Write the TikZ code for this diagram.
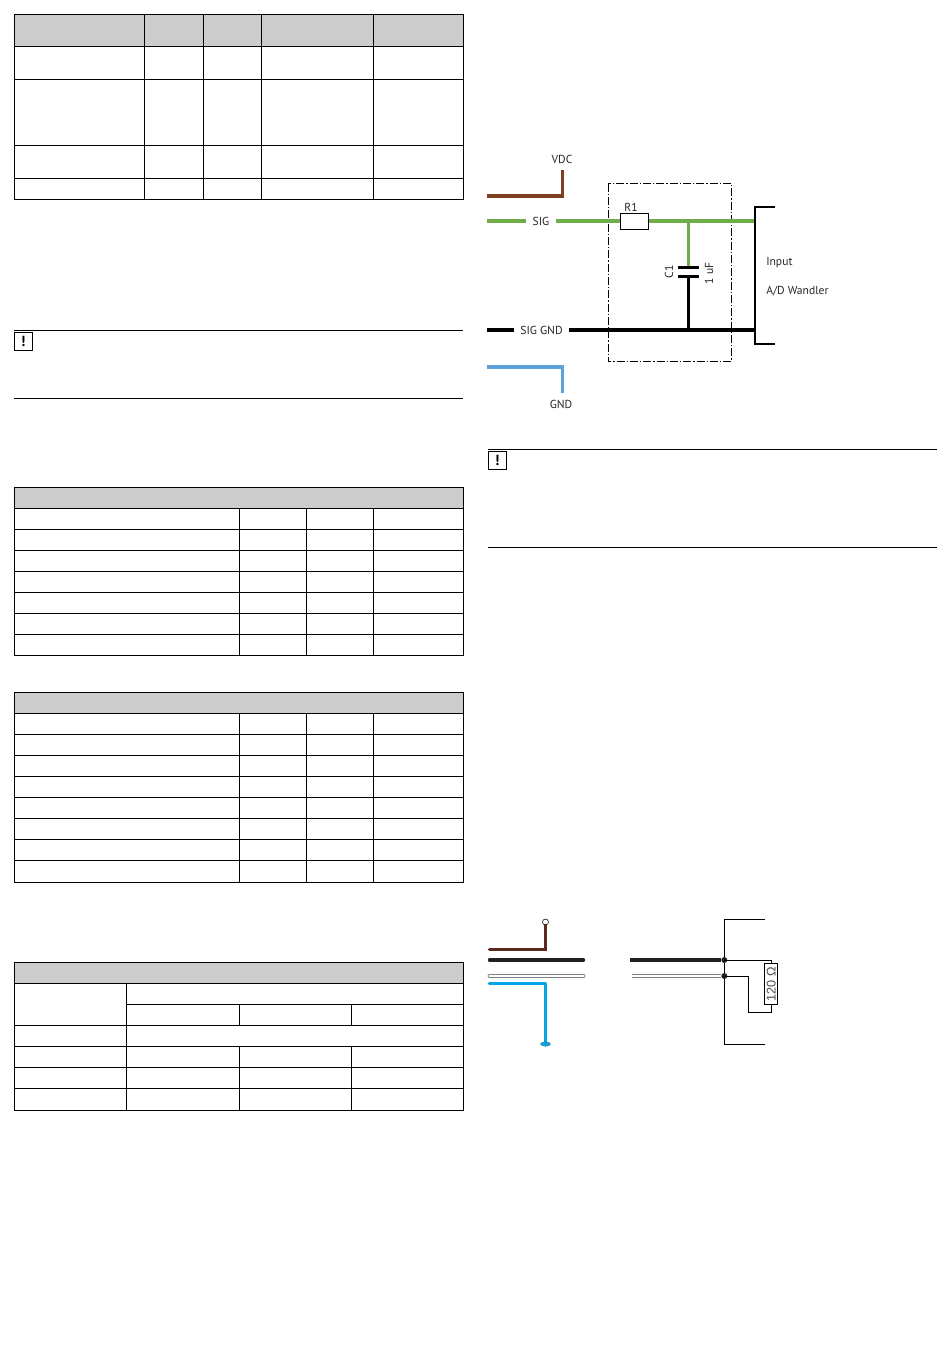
\documentclass[tikz,border=0pt]{standalone}
\usepackage{fontspec}
\usetikzlibrary{shapes.geometric}
\setmainfont{PT Sans}
\newfontfamily\ohmfont{Liberation Sans}
\definecolor{headgray}{rgb}{0.8,0.8,0.8}
\definecolor{vdcbrown}{rgb}{0.49,0.25,0.13}
\definecolor{siggreen}{rgb}{0.44,0.68,0.29}
\definecolor{gndblue}{rgb}{0.36,0.64,0.87}
\definecolor{darkbrown}{rgb}{0.36,0.16,0.12}
\definecolor{cableblue}{rgb}{0.0,0.65,0.90}
\definecolor{cableblack}{rgb}{0.13,0.12,0.12}
\tikzset{
  rule/.style={line width=0.8pt,black},
  wire/.style={line width=2.3pt,line join=miter},
  thinwire/.style={line width=0.7pt,black},
  lbl/.style={font=\fontsize{8.7}{10}\selectfont,text=black!85,inner sep=0pt},
  gaplbl/.style={lbl,inner xsep=4.5pt,inner ysep=1pt},
  dot/.style={circle,fill=cableblack,inner sep=0pt,minimum size=4.5pt},
  notebox/.style={draw,line width=0.8pt,minimum size=13.5pt,inner sep=0pt,font=\bfseries\fontsize{11}{11}\selectfont}
}
\begin{document}
\begin{tikzpicture}[x=0.75pt,y=-0.75pt]
\useasboundingbox (0,0) rectangle (950,1353);

%% table top left
\fill [headgray] (14.3,14.3) rectangle (463.3,46.3);
\draw [rule] (14.3,14.3) rectangle (463.3,199.3);
\foreach \yrow in {46.3,79.3,145.3,178.3}
  \draw [rule] (14.3,\yrow) -- (463.3,\yrow);
\foreach \xcol in {144.3,203.3,261.3,373.3}
  \draw [rule] (\xcol,14.3) -- (\xcol,199.3);

%% note left
\draw [rule] (14.3,330.3) -- (463.3,330.3);
\draw [rule] (14.3,398.3) -- (463.3,398.3);
\node [notebox] (noteleft) at (23.4,341.4) {!};

%% table two
\fill [headgray] (14.3,487.3) rectangle (463.3,508.3);
\draw [rule] (14.3,487.3) rectangle (463.3,655.3);
\foreach \yrow in {508.3,529.3,550.3,571.3,592.3,613.3,634.3}
  \draw [rule] (14.3,\yrow) -- (463.3,\yrow);
\foreach \xcol in {239.3,306.3,373.3}
  \draw [rule] (\xcol,508.3) -- (\xcol,655.3);

%% table three
\fill [headgray] (14.3,692.3) rectangle (463.3,713.3);
\draw [rule] (14.3,692.3) rectangle (463.3,882.3);
\foreach \yrow in {713.3,734.3,755.3,776.3,797.3,818.3,839.3,860.3}
  \draw [rule] (14.3,\yrow) -- (463.3,\yrow);
\foreach \xcol in {239.3,306.3,373.3}
  \draw [rule] (\xcol,713.3) -- (\xcol,882.3);

%% table four
\fill [headgray] (14.3,962.3) rectangle (463.3,983.3);
\draw [rule] (14.3,962.3) rectangle (463.3,1110.3);
\foreach \yrow in {983.3,1025.3,1046.3,1067.3,1088.3}
  \draw [rule] (14.3,\yrow) -- (463.3,\yrow);
\draw [rule] (126.7,1004.3) -- (463.3,1004.3);
\draw [rule] (126.7,983.3) -- (126.7,1110.3);
\foreach \xcol in {239.3,351.3} {
  \draw [rule] (\xcol,1004.3) -- (\xcol,1025.3);
  \draw [rule] (\xcol,1046.3) -- (\xcol,1110.3);
}

%% note right
\draw [rule] (488,449.3) -- (937.3,449.3);
\draw [rule] (488,547.3) -- (937.3,547.3);
\node [notebox] (noteright) at (497.2,460.8) {!};

%% circuit
% filter box
\draw [line width=0.6pt,dash pattern=on 6pt off 1.5pt on 1pt off 1.5pt] (608,183.5) rectangle (731.5,361.5);
% free ends
\coordinate (vdcstart) at (487,196);
\coordinate (vdcend) at (562.5,170);
\coordinate (sigstart) at (487,221);
\coordinate (gndsigstart) at (487,330);
\coordinate (gndstart) at (487,367);
\coordinate (gndend) at (562.5,393);
\coordinate (inputtop) at (754.5,206.5);
\coordinate (inputbot) at (754.5,344);
\coordinate (sigjoin) at (688.5,221);
\coordinate (sigend) at (754.5,221);
\coordinate (gndjoin) at (688.5,330);
\coordinate (gndendin) at (754.5,330);
\coordinate (capa) at (688.5,267.5);
\coordinate (capb) at (688.5,276.5);
% labels
\node [lbl] (vdclabel) at (562,159.5) {VDC};
\node [gaplbl] (siglabel) at (541,221) {SIG};
\node [gaplbl] (gndsiglabel) at (541.5,330) {SIG GND};
\node [lbl] (gndlabel) at (561,404) {GND};
\node [lbl] (r1label) at (631,207) {R1};
\node [lbl,rotate=90] (c1label) at (669,272) {C1};
\node [lbl,rotate=90] (cvallabel) at (709,273.5) {1 uF};
\node [lbl,anchor=west] (inputlabel) at (766,262.5) {Input};
\node [lbl,anchor=west] (adlabel) at (766,291) {A/D Wandler};
\node [draw,line width=0.6pt,fill=white,minimum width=21pt,minimum height=12pt,inner sep=0pt] (rone) at (634.3,221) {};
% wires
\draw [wire,vdcbrown] (vdcstart) -| (vdcend);
\draw [wire,gndblue] (gndstart) -| (gndend);
\draw [wire,siggreen] (sigstart) -- (siglabel);
\draw [wire,siggreen] (siglabel) -- (rone);
\draw [wire,siggreen] (rone) -- (sigend);
\draw [wire,siggreen] (sigjoin) -- (capa);
\draw [wire,black] (gndsigstart) -- (gndsiglabel);
\draw [wire,black] (gndsiglabel) -- (gndendin);
\draw [wire,black] (capb) -- (gndjoin);
\draw [line width=1.7pt] (capa) ++(-10.5,0) -- ++(21,0);
\draw [line width=1.7pt] (capb) ++(-10.5,0) -- ++(21,0);
\draw [line width=1.5pt,line join=miter] (775,206.5) -- (inputtop) -- (inputbot) -- (775,344);

%% cable
\coordinate (brownstart) at (489.5,949.5);
\coordinate (blackstart) at (489.5,960);
\coordinate (blackmid) at (583.5,960);
\coordinate (blackback) at (629.5,960);
\coordinate (whitestart) at (489.5,976);
\coordinate (whitemid) at (583.5,976);
\coordinate (whiteback) at (632,976);
\coordinate (bluestart) at (489.5,983.5);
\coordinate (blueend) at (545.5,1044);
\node [dot] (dotblack) at (724.3,960) {};
\node [dot] (dotwhite) at (724.3,976) {};
\node [draw,circle,fill=white,line width=0.4pt,inner sep=0pt,minimum size=4.5pt] (browntip) at (545.5,922) {};
\node [ellipse,fill=cableblue,draw=black!50,line width=0.3pt,inner sep=0pt,minimum width=7.5pt,minimum height=3.5pt] (bluetip) at (blueend) {};
\draw [wire,darkbrown,line cap=round] (brownstart) -| (browntip);
\draw [line width=2.6pt,cableblack,line cap=round] (blackstart) -- (blackmid);
\draw [line width=2.6pt,cableblack] (blackback) -- (dotblack);
\draw [line width=0.6pt,black!50,double=white,double distance=1.7pt,line cap=round] (whitestart) -- (whitemid);
\draw [line width=0.6pt,black!50,double=white,double distance=1.7pt] (whiteback) -- (dotwhite);
\draw [line width=0.4pt,black!60,double=cableblue,double distance=1.9pt,line join=round,line cap=round] (bluestart) -| (bluetip);
% termination
\coordinate (topend) at (765,919.5);
\coordinate (botend) at (765,1044);
\node [draw,line width=0.7pt,fill=white,minimum width=10pt,minimum height=31pt,inner sep=0pt] (term) at (771.2,984.2) {};
\node [rotate=90,inner sep=0pt,text=black!70] (termlabel) at (term.center) {\ohmfont\fontsize{9.5}{10}\selectfont 120 Ω};
\draw [thinwire,line join=miter] (topend) -| (dotblack);
\draw [thinwire,line join=miter] (botend) -| (dotwhite);
\draw [thinwire] (dotblack) -- (dotwhite);
\draw [thinwire,line join=miter] (dotblack.center) -| (term.north);
\draw [thinwire,line join=miter] (term.south) |- (748.5,1012) |- (dotwhite.center);

\end{tikzpicture}
\end{document}
